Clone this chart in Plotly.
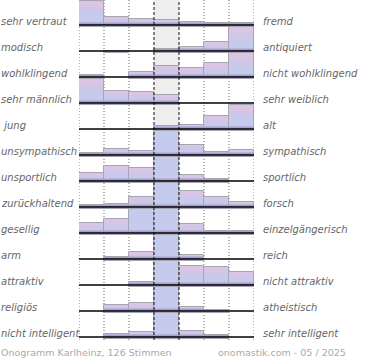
import plotly.graph_objects as go

# ---------------- data ----------------
left_labels = ["sehr vertraut", "modisch", "wohlklingend", "sehr männlich", "\u00a0jung",
               "unsympathisch", "unsportlich", "zurückhaltend", "gesellig", "arm",
               "attraktiv", "religiös", "nicht intelligent"]
right_labels = ["fremd", "antiquiert", "nicht wohlklingend", "sehr weiblich", "alt",
                "sympathisch", "sportlich", "forsch", "einzelgängerisch", "reich",
                "nicht attraktiv", "atheistisch", "sehr intelligent"]

# share of votes per scale step (7 steps, left -> right), bars are clipped at the row height
vertraut = [24.5, 7.7, 5.7, 4.7, 2.7, 2.3, 2.3]
modisch = [0, 0.4, 0, 2.0, 3.7, 8.7, 24.5]
wohlklingend = [2.3, 0, 5.0, 11.0, 8.7, 13.7, 24.5]
maennlich = [24.5, 12.3, 10.7, 8.0, 0, 0, 0]
jung = [0, 0, 0, 3.0, 4.0, 13.0, 24.5]
unsympathisch = [2.0, 6.0, 4.5, 68, 10.5, 3.5, 5.5]
unsportlich = [7.7, 15.0, 13.3, 57, 5.7, 1.7, 0]
zurueckhaltend = [1.7, 3.0, 9.7, 55, 16.0, 10.3, 4.7]
gesellig = [9.7, 13.7, 56, 58, 9.3, 2.3, 2.0]
arm = [0, 1.7, 6.7, 88, 3.7, 0, 0]
attraktiv = [0, 0, 2.7, 58, 18.7, 17.7, 12.7]
religioes = [0, 6.0, 7.7, 81, 3.7, 1.3, 0]
intelligent = [0, 3.4, 5.4, 83, 6.0, 2.0, 0]

rows = [vertraut, modisch, wohlklingend, maennlich, jung, unsympathisch, unsportlich,
        zurueckhaltend, gesellig, arm, attraktiv, religioes, intelligent]
steps = [0, 1, 2, 3, 4, 5, 6]

footer_left = "Onogramm Karlheinz, 126 Stimmen"
footer_right = "onomastik.com - 05 / 2025"

# ---------------- style ----------------
ROW = 26.0      # row pitch in value units (1 unit = 1 px)
CAP = 24.5      # visible bar limit per row
SHADOW = 2.0
n = len(rows)

layers = {k: dict(x=[], base=[], y=[]) for k in
          ["body", "pink1", "pink2", "band2", "band1", "shadow", "outline"]}


def add(layer, x, base, h):
    if h > 0:
        layers[layer]["x"].append(x)
        layers[layer]["base"].append(base)
        layers[layer]["y"].append(h)


for i, row in enumerate(rows):
    b = (n - 1 - i) * ROW
    for c, v in zip(steps, row):
        if v <= 0:
            continue
        vis = min(v, CAP)
        add("body", c, b - SHADOW, vis + SHADOW)
        s1 = 0.45 * v
        add("pink1", c, b + s1, vis - s1)
        s2 = 0.72 * v
        add("pink2", c, b + s2, vis - s2)
        add("band2", c, b, min(vis, 3.5))
        add("band1", c, b, min(vis, 1.6))
        add("shadow", c, b - SHADOW, SHADOW)
        add("outline", c, b - SHADOW, vis + SHADOW)

colors = {"body": "#c5cbec", "pink1": "#cfc7e8", "pink2": "#dac5e5",
          "band2": "#b9b4de", "band1": "#a69ed2", "shadow": "#c8c8d0",
          "outline": "rgba(0,0,0,0)"}

fig = go.Figure()
for k, d in layers.items():
    fig.add_trace(go.Bar(
        x=d["x"], y=d["y"], base=d["base"], width=1.0,
        marker=dict(color=colors[k],
                    line=dict(color="#a6a6b2" if k == "outline" else "rgba(0,0,0,0)",
                              width=1 if k == "outline" else 0)),
        hoverinfo="skip", showlegend=False))

L, PW, PH, TOP_Y, BOT_Y = 79, 175, 340, 337.0, -3.0

shapes = []
# centre column background
shapes.append(dict(type="rect", xref="x", yref="paper", x0=2.5, x1=3.5, y0=0, y1=1,
                   fillcolor="#eeeeee", line=dict(width=0), layer="below"))
for xv in [-0.5, 0.5, 1.5, 4.5, 5.5, 6.5]:
    shapes.append(dict(type="line", xref="x", yref="paper", x0=xv, x1=xv, y0=0, y1=1,
                       line=dict(color="#666666", width=1, dash="1px,2px"), layer="below"))
for xv in [2.5, 3.5]:
    shapes.append(dict(type="line", xref="x", yref="paper", x0=xv, x1=xv, y0=0, y1=1,
                       line=dict(color="#111111", width=1, dash="3px,2px"), layer="above"))
for i in range(n):
    b = (n - 1 - i) * ROW
    shapes.append(dict(type="line", xref="x", yref="y", x0=-0.5, x1=6.5, y0=b, y1=b,
                       line=dict(color="#000000", width=1.6), layer="above"))

annotations = []
lab_font = dict(family="DejaVu Sans", size=10, color="#666666", style="italic")
for i in range(n):
    b = (n - 1 - i) * ROW
    annotations.append(dict(text=left_labels[i], xref="paper", yref="y",
                            x=(-1 - L) / PW, y=b + 3.8, xanchor="left", yanchor="middle",
                            showarrow=False, font=lab_font))
    annotations.append(dict(text=right_labels[i], xref="paper", yref="y",
                            x=(260.5 - L) / PW, y=b + 3.8, xanchor="left", yanchor="middle",
                            showarrow=False, font=lab_font))
foot_font = dict(family="DejaVu Sans", size=9.5, color="#aaaaaa")
foot_y = (PH - 352.5) / PH
annotations.append(dict(text=footer_left, xref="paper", yref="paper", x=(-1 - L) / PW, y=foot_y,
                        xanchor="left", yanchor="middle", showarrow=False, font=foot_font))
annotations.append(dict(text=footer_right, xref="paper", yref="paper", x=(348 - L) / PW, y=foot_y,
                        xanchor="right", yanchor="middle", showarrow=False, font=foot_font))

fig.update_layout(
    width=370, height=360,
    margin=dict(l=L, r=370 - L - PW, t=0, b=360 - PH, pad=0),
    paper_bgcolor="white", plot_bgcolor="white",
    barmode="overlay", bargap=0,
    xaxis=dict(range=[-0.5, 6.5], visible=False, fixedrange=True),
    yaxis=dict(range=[BOT_Y, TOP_Y], visible=False, fixedrange=True),
    shapes=shapes, annotations=annotations,
)
fig.write_html("out.html", config=dict(displayModeBar=False),
               post_script="document.body.style.margin='0';")
